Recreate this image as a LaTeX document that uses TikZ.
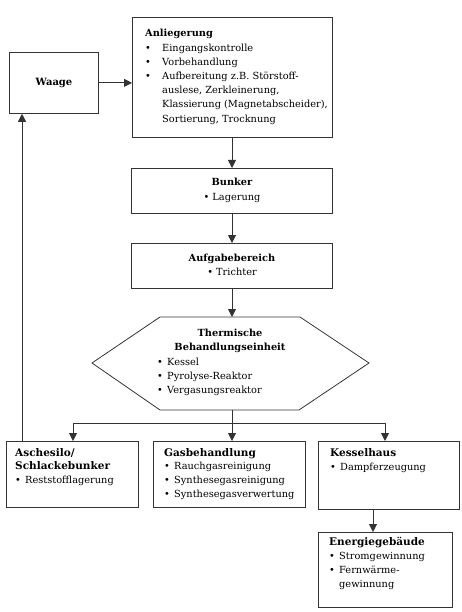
\documentclass[tikz,border=0pt]{standalone}
\usepackage{fontspec}
\setmainfont{DejaVu Serif}
\usetikzlibrary{arrows.meta}
\newcommand{\bl}{\makebox[10pt][l]{\textbullet}}
\begin{document}
\begin{tikzpicture}[x=1pt,y=-1pt,
  box/.style={draw=black!80, line width=0.8pt, inner sep=0pt, anchor=north west},
  txt/.style={inner sep=0pt, anchor=base west, font=\fontsize{9.8}{14.2}\selectfont},
  ctxt/.style={inner sep=0pt, anchor=base, font=\fontsize{9.8}{14.2}\selectfont},
  arr/.style={draw=black!80, line width=0.8pt, -{Triangle[width=8pt,length=8pt]}},
  ln/.style={draw=black!80, line width=0.8pt}]
\useasboundingbox (0,0) rectangle (462,612);
% boxes
\node[box, minimum width=89pt, minimum height=61pt] (waage) at (9,52) {};
\node[box, minimum width=200pt, minimum height=120pt] (anl) at (132,17) {};
\node[box, minimum width=201pt, minimum height=45pt] (bunker) at (131,168) {};
\node[box, minimum width=201pt, minimum height=45pt] (aufg) at (131,243) {};
\draw[ln] (160,317) coordinate (hextl) -- (300,317) coordinate (hextr) -- (369,363) coordinate (hexr)
  -- (299,410) coordinate (hexbr) -- (160,410) coordinate (hexbl) -- (92,363) coordinate (hexl) -- cycle;
\coordinate (hextop) at (232,317);
\coordinate (hexbot) at (232,410);
\node[box, minimum width=132pt, minimum height=66pt] (asche) at (6,441) {};
\node[box, minimum width=152pt, minimum height=66pt] (gas) at (153,441) {};
\node[box, minimum width=141pt, minimum height=68pt] (kessel) at (318,441) {};
\node[box, minimum width=134pt, minimum height=75pt] (energie) at (318,532) {};
% texts
\node[ctxt, font=\fontsize{10}{14.2}\selectfont\bfseries] (twaage) at (54,86) {Waage};
\node[txt] (tanl) at (145,37) {\begin{tabular}[t]{@{}p{17pt}@{}l@{}}
\multicolumn{2}{@{}l@{}}{\bfseries Anliegerung}\\
\textbullet & Eingangskontrolle\\
\textbullet & Vorbehandlung\\
\textbullet & Aufbereitung z.B. Störstoff-\\
 & auslese, Zerkleinerung,\\
 & Klassierung (Magnetabscheider),\\
 & Sortierung, Trocknung
\end{tabular}};
\node[ctxt] (tbunker) at (232,186) {\begin{tabular}[t]{@{}c@{}}
{\bfseries Bunker}\\ \textbullet\ Lagerung\end{tabular}};
\node[ctxt] (taufg) at (232,261) {\begin{tabular}[t]{@{}c@{}}
{\bfseries Aufgabebereich}\\ \textbullet\ Trichter\end{tabular}};
\node[ctxt] (thex) at (230,336) {\begin{tabular}[t]{@{}c@{}}
{\bfseries Thermische}\\ {\bfseries Behandlungseinheit}\end{tabular}};
\node[txt] (thexi) at (157,365) {\begin{tabular}[t]{@{}l@{}}
\bl Kessel\\ \bl Pyrolyse-Reaktor\\ \bl Vergasungsreaktor\end{tabular}};
\node[txt, font=\fontsize{9.8}{13.6}\selectfont] (tasche) at (15,456) {\begin{tabular}[t]{@{}l@{}}
{\fontsize{10.5}{13.6}\selectfont\bfseries Aschesilo/}\\ {\fontsize{10.5}{13.6}\selectfont\bfseries Schlackebunker}\\ \bl Reststofflagerung\end{tabular}};
\node[txt, font=\fontsize{9.8}{13.9}\selectfont] (tgas) at (164,456) {\begin{tabular}[t]{@{}l@{}}
{\fontsize{10.5}{13.9}\selectfont\bfseries Gasbehandlung}\\ \bl Rauchgasreinigung\\ \bl Synthesegasreinigung\\ \bl Synthesegasverwertung\end{tabular}};
\node[txt] (tkessel) at (330,456) {\begin{tabular}[t]{@{}l@{}}
{\fontsize{10.5}{14}\selectfont\bfseries Kesselhaus}\\ \bl Dampferzeugung\end{tabular}};
\node[txt] (tenergie) at (329,545) {\begin{tabular}[t]{@{}l@{}l@{}}
\multicolumn{2}{@{}l@{}}{\fontsize{10.5}{14}\selectfont\bfseries Energiegebäude}\\ \bl & Stromgewinnung\\ \bl & Fernwärme-\\ & gewinnung\end{tabular}};
% connectors
\draw[arr] (waage.east) -- (waage.east -| anl.west);
\draw[arr] (232,137) coordinate (anlbot) -- (anlbot |- bunker.north);
\draw[arr] (232,213) coordinate (bunbot) -- (bunbot |- aufg.north);
\draw[arr] (232,288) coordinate (aufbot) -- (hextop);
\coordinate (jl) at (73,423);
\coordinate (jr) at (385,423);
\draw[ln] (jl) -- (jr);
\draw[arr] (jl) -- (jl |- asche.north);
\draw[arr] (hexbot) -- (hexbot |- gas.north);
\draw[arr] (jr) -- (jr |- kessel.north);
\coordinate (fb) at (22,441);
\draw[arr] (fb) -- (fb |- waage.south);
\coordinate (ke) at (373,509);
\draw[arr] (ke) -- (ke |- energie.north);
\end{tikzpicture}
\end{document}
